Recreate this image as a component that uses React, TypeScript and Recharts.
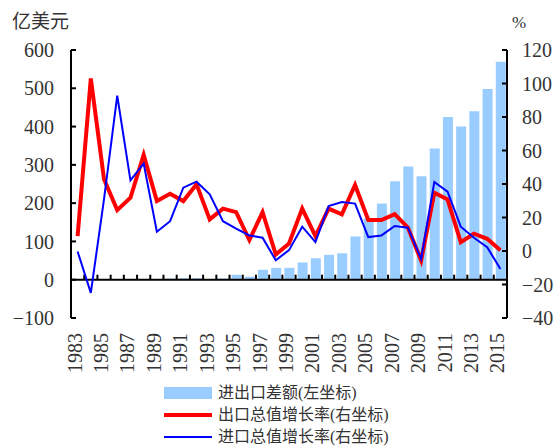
import React from 'react';
import { ComposedChart, Bar, Line, XAxis, YAxis, ReferenceLine, Legend } from 'recharts';

// 年份
const years = [
    '1983', '1984', '1985', '1986', '1987', '1988', '1989', '1990', '1991', '1992', '1993',
    '1994', '1995', '1996', '1997', '1998', '1999', '2000', '2001', '2002', '2003', '2004',
    '2005', '2006', '2007', '2008', '2009', '2010', '2011', '2012', '2013', '2014', '2015',
];
// 进出口差额 (亿美元, 左坐标)
const surplus = [
    0, 0, 0, 0, 0, 0, 0, 3, 4, 4, 0,
    3, 13, 8, 26, 31, 31, 45, 56, 65, 69, 113,
    160, 199, 257, 296, 270, 343, 425, 400, 440, 498, 569,
];
// 出口总值增长率 (%, 右坐标)
const exportGrowth = [
    8.9, 103, 42.8, 24.4, 31.8, 57.4, 29.8, 34.2, 29.8, 39.8, 18.9,
    25.3, 23.2, 6.5, 23.2, -2.1, 4.5, 25.3, 8.9, 25.3, 21.9, 39.4,
    18.5, 18.5, 22, 13.9, -5.7, 34.8, 30.8, 5.3, 10.3, 7.3, 0.5,
];
// 进口总值增长率 (%, 右坐标)
const importGrowth = [
    -0.3, -25, 31, 92.7, 42.2, 52.2, 11.5, 17.8, 37.8, 41.4, 33.8,
    17.8, 13.3, 9.3, 7.9, -5.5, 0.5, 14.5, 5.3, 26.8, 29.2, 28.3,
    8.3, 9.3, 14.9, 13.9, -4.7, 41.2, 35.4, 14.5, 7.9, 2.3, -10.7,
];
const leftTicks = [-100, 0, 100, 200, 300, 400, 500, 600];
const rightTicks = [-40, -20, 0, 20, 40, 60, 80, 100, 120];

const data = years.map((year, i) => ({
    year,
    surplus: surplus[i],
    exportGrowth: exportGrowth[i],
    importGrowth: importGrowth[i],
}));

const legendItems = [
    { name: '进出口差额(左坐标)', color: '#99CCFF', width: 12 },
    { name: '出口总值增长率(右坐标)', color: '#FF0000', width: 4 },
    { name: '进口总值增长率(右坐标)', color: '#0000FF', width: 2 },
];

const numFont = '"Liberation Serif", serif';
const cjkFont = '"Liberation Serif", "Noto Sans CJK SC", serif';
const textColor = '#333';

const fmt = (v: number) => String(v).replace('-', '\u2212');

const YearTick = (props: any) => {
    const { x, y, payload } = props;
    return (
        <text
            x={x}
            y={y}
            dy={4}
            transform={`rotate(-90 ${x} ${y})`}
            textAnchor="end"
            fill={textColor}
            fontSize={20}
            fontFamily={numFont}
        >
            {payload.value}
        </text>
    );
};

// 零轴, 类目之间的刻度朝上
const ZeroAxis = (props: any) => {
    const { x1, y1, x2 } = props;
    const step = (x2 - x1) / years.length;
    return (
        <g>
            <line x1={x1} y1={y1} x2={x2} y2={y1} stroke="#000" strokeWidth={2} />
            {years.slice(1).map((_, i) => {
                const x = x1 + (i + 1) * step;
                return <line key={i} x1={x} y1={y1} x2={x} y2={y1 - 5} stroke="#000" strokeWidth={2} />;
            })}
        </g>
    );
};

const renderLegend = () => (
    <div style={{ fontFamily: cjkFont, fontSize: 16, lineHeight: '18px', color: textColor }}>
        {legendItems.map((item) => (
            <div key={item.name} style={{ display: 'flex', alignItems: 'center', height: 22 }}>
                <div style={{ width: 48, height: item.width, background: item.color, marginRight: 6 }} />
                <span>{item.name}</span>
            </div>
        ))}
    </div>
);

export default function App() {
    return (
        <div style={{ position: 'fixed', left: 0, top: 0, width: 556, height: 448, background: '#fff' }}>
            <div style={{ position: 'absolute', left: 12, top: 12, fontFamily: cjkFont, fontSize: 19, lineHeight: '20px', color: textColor }}>
                亿美元
            </div>
            <div style={{ position: 'absolute', left: 512, top: 14, fontFamily: numFont, fontSize: 17, lineHeight: '17px', color: textColor }}>
                %
            </div>
            <ComposedChart
                width={556}
                height={448}
                data={data}
                margin={{ top: 50, right: 0, bottom: 0, left: 0 }}
            >
                <XAxis
                    dataKey="year"
                    height={130}
                    axisLine={false}
                    tickLine={false}
                    tickSize={0}
                    tickMargin={15}
                    interval={1}
                    tick={<YearTick />}
                />
                <YAxis
                    yAxisId="left"
                    orientation="left"
                    width={71}
                    domain={[-100, 600]}
                    ticks={leftTicks}
                    allowDataOverflow
                    axisLine={{ stroke: '#000', strokeWidth: 2 }}
                    tickLine={{ stroke: '#000', strokeWidth: 2 }}
                    tickSize={-5}
                    tickMargin={22}
                    tickFormatter={fmt}
                    tick={{ fill: textColor, fontSize: 20, fontFamily: numFont }}
                />
                <YAxis
                    yAxisId="right"
                    orientation="right"
                    width={49}
                    domain={[-40, 120]}
                    ticks={rightTicks}
                    allowDataOverflow
                    axisLine={{ stroke: '#000', strokeWidth: 2 }}
                    tickLine={{ stroke: '#000', strokeWidth: 2 }}
                    tickSize={-5}
                    tickMargin={20}
                    tickFormatter={fmt}
                    tick={{ fill: textColor, fontSize: 20, fontFamily: numFont }}
                />
                <Bar yAxisId="left" dataKey="surplus" fill="#99CCFF" barSize={10} isAnimationActive={false} />
                <ReferenceLine yAxisId="left" y={0} shape={<ZeroAxis />} />
                <Line
                    yAxisId="right"
                    type="linear"
                    dataKey="exportGrowth"
                    stroke="#FF0000"
                    strokeWidth={4}
                    dot={false}
                    isAnimationActive={false}
                />
                <Line
                    yAxisId="right"
                    type="linear"
                    dataKey="importGrowth"
                    stroke="#0000FF"
                    strokeWidth={2}
                    dot={false}
                    isAnimationActive={false}
                />
                <Legend
                    layout="vertical"
                    align="center"
                    verticalAlign="middle"
                    content={renderLegend}
                    wrapperStyle={{ left: 164, top: 382, width: 320 }}
                />
            </ComposedChart>
        </div>
    );
}
